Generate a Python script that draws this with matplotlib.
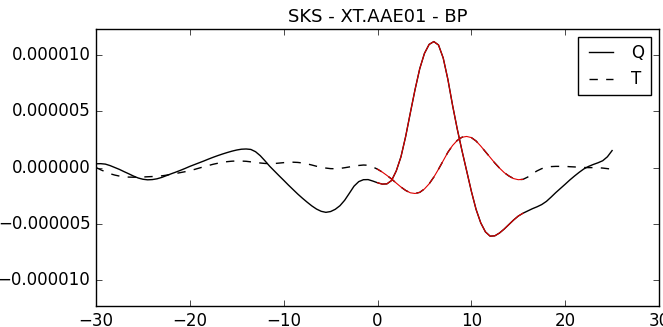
import numpy as np
import matplotlib
matplotlib.use("Agg")
import matplotlib.pyplot as plt

plt.style.use("classic")

# Time (s) relative to the predicted SKS arrival, 0.5 s sampling
time_s = np.arange(-30.0, 25.01, 0.5)

# Q component, in units of 1e-6
q_amp = [
    0.33, 0.34, 0.30, 0.17, 0.00, -0.17, -0.37, -0.56, -0.76, -0.93,
    -1.04, -1.09, -1.07, -1.00, -0.88, -0.72, -0.56, -0.41, -0.25, -0.08,
    0.10, 0.26, 0.42, 0.58, 0.75, 0.91, 1.06, 1.20, 1.33, 1.45,
    1.55, 1.62, 1.64, 1.60, 1.40, 1.05, 0.60, 0.12, -0.30, -0.72,
    -1.13, -1.55, -1.95, -2.35, -2.72, -3.07, -3.40, -3.68, -3.88, -3.97,
    -3.90, -3.70, -3.38, -2.90, -2.28, -1.65, -1.25, -1.08, -1.07, -1.20,
    -1.35, -1.47, -1.45, -1.15, -0.30, 0.95, 2.75, 4.85, 6.90, 8.75,
    10.10, 10.90, 11.15, 10.85, 9.70, 7.80, 5.50, 3.40, 1.50, -0.30,
    -2.10, -3.70, -4.90, -5.70, -6.08, -6.05, -5.80, -5.45, -5.05, -4.65,
    -4.30, -4.05, -3.85, -3.65, -3.48, -3.28, -3.00, -2.62, -2.22, -1.85,
    -1.48, -1.10, -0.75, -0.42, -0.12, 0.10, 0.27, 0.42, 0.60, 0.95,
    1.50,
]

# T component, in units of 1e-6
t_amp = [
    0.00, -0.20, -0.38, -0.55, -0.67, -0.76, -0.82, -0.85, -0.86, -0.85,
    -0.84, -0.82, -0.80, -0.77, -0.74, -0.68, -0.60, -0.53, -0.45, -0.37,
    -0.28, -0.17, -0.05, 0.07, 0.18, 0.29, 0.38, 0.46, 0.52, 0.56,
    0.58, 0.57, 0.55, 0.50, 0.45, 0.40, 0.36, 0.34, 0.35, 0.39,
    0.43, 0.46, 0.47, 0.45, 0.40, 0.32, 0.22, 0.11, 0.02, -0.05,
    -0.10, -0.11, -0.08, -0.02, 0.05, 0.12, 0.18, 0.22, 0.20, 0.05,
    -0.15, -0.40, -0.70, -1.02, -1.38, -1.73, -2.03, -2.24, -2.30, -2.20,
    -1.90, -1.45, -0.85, -0.15, 0.60, 1.35, 1.95, 2.40, 2.68, 2.75,
    2.65, 2.35, 1.90, 1.40, 0.90, 0.40, -0.05, -0.45, -0.75, -0.98,
    -1.08, -1.05, -0.85, -0.55, -0.30, -0.10, 0.02, 0.08, 0.10, 0.10,
    0.10, 0.07, 0.05, 0.02, 0.00, -0.01, -0.01, -0.02, -0.05, -0.10,
    -0.15,
]

# Analysis window highlighted in red
win_start = 0.0
win_end = 15.5

qa = np.array(q_amp) * 1e-6
ta = np.array(t_amp) * 1e-6

fig = plt.figure(figsize=(6.63, 3.27), dpi=100, facecolor="white")
ax = fig.add_axes([0.1448, 0.0642, 0.8492, 0.8471])
ax.set_facecolor("white")

ax.plot(time_s, qa, "k-", lw=1, label="Q")
ax.plot(time_s, ta, "k--", lw=1, label="T")

win = (time_s >= win_start - 1e-9) & (time_s <= win_end + 1e-9)
ax.plot(time_s[win], qa[win], color="#e00000", lw=0.8)
ax.plot(time_s[win], ta[win], color="#e00000", lw=0.8)

lim = 1.1 * np.max(np.abs(np.concatenate([qa, ta])))
ax.set_ylim(-lim, lim)
ax.set_xlim(-30, 30)
ax.set_yticks([-1e-5, -5e-6, 0, 5e-6, 1e-5])
ax.set_title("SKS - XT.AAE01 - BP", fontsize=13)
ax.legend(loc="upper right", fontsize=12)

fig.savefig("out.png", dpi=100, facecolor="white")
